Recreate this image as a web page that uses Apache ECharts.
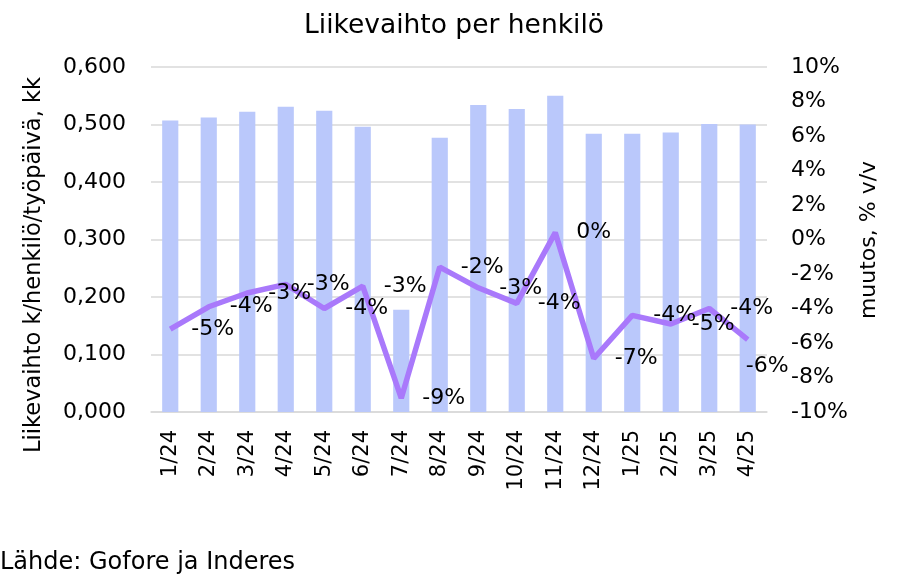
<!DOCTYPE html>
<html>
<head>
<meta charset="utf-8">
<script src="https://cdn.jsdelivr.net/npm/echarts@6/dist/echarts.min.js"></script>
<style>
  html, body { margin: 0; padding: 0; background: #ffffff; }
  #chart { width: 908px; height: 585px; }
</style>
</head>
<body>
<div id="chart"></div>
<script>
// ---- data ----
var categories = ['1/24','2/24','3/24','4/24','5/24','6/24','7/24','8/24','9/24','10/24','11/24','12/24','1/25','2/25','3/25','4/25'];
var revenuePerPerson = [0.507, 0.512, 0.522, 0.531, 0.524, 0.496, 0.178, 0.477, 0.534, 0.527, 0.550, 0.484, 0.484, 0.486, 0.501, 0.500];
var changeYoY = [-5.2, -3.9, -3.1, -2.6, -4.0, -2.7, -9.2, -1.6, -2.8, -3.7, 0.4, -6.9, -4.4, -4.9, -4.0, -5.8];
var leftTicks = { min: 0, max: 0.6, interval: 0.1 };
var rightTicks = { min: -10, max: 10, interval: 2 };
var titleText = 'Liikevaihto per henkilö';
var leftAxisName = 'Liikevaihto k/henkilö/työpäivä, kk';
var rightAxisName = 'muutos, % v/v';
var sourceText = 'Lähde: Gofore ja Inderes';

var FONT = '"DejaVu Sans", sans-serif';
var chart = echarts.init(document.getElementById('chart'), null, { renderer: 'canvas' });
var lastIndex = changeYoY.length - 1;

chart.setOption({
  animation: false,
  backgroundColor: '#ffffff',
  textStyle: { fontFamily: FONT },
  title: {
    text: titleText,
    left: 'center',
    top: 8,
    textStyle: { fontFamily: FONT, fontSize: 26.5, fontWeight: 'normal', color: '#000' }
  },
  grid: { left: 151, right: 141, top: 67, bottom: 173, containLabel: false },
  xAxis: {
    type: 'category',
    data: categories,
    axisLine: { show: true, lineStyle: { color: '#D9D9D9', width: 1.5 } },
    axisTick: { show: false },
    axisLabel: { rotate: 90, margin: 18, fontSize: 21, color: '#000', fontFamily: FONT, interval: 0 }
  },
  yAxis: [
    {
      type: 'value',
      min: leftTicks.min, max: leftTicks.max, interval: leftTicks.interval,
      axisLine: { show: false },
      axisTick: { show: false },
      splitLine: { show: true, lineStyle: { color: '#D9D9D9', width: 1.5 } },
      axisLabel: {
        margin: 25, fontSize: 22, color: '#000', fontFamily: FONT,
        formatter: function (v) { return v.toFixed(3).replace('.', ','); }
      }
    },
    {
      type: 'value',
      position: 'right',
      min: rightTicks.min, max: rightTicks.max, interval: rightTicks.interval,
      axisLine: { show: false },
      axisTick: { show: false },
      splitLine: { show: false },
      axisLabel: {
        margin: 24, fontSize: 22, color: '#000', fontFamily: FONT,
        formatter: function (v) { return Math.round(v) + '%'; }
      }
    }
  ],
  series: [
    {
      type: 'bar',
      data: revenuePerPerson,
      barWidth: '42%',
      itemStyle: { color: '#BAC8FB' },
      yAxisIndex: 0,
      z: 2
    },
    {
      type: 'line',
      data: changeYoY,
      yAxisIndex: 1,
      symbol: 'circle',
      symbolSize: 0,
      showSymbol: true,
      itemStyle: { color: '#A979FB' },
      lineStyle: { color: '#A979FB', width: 5.5 },
      label: {
        show: true,
        position: 'right',
        distance: 21,
        fontSize: 22,
        color: '#000',
        fontFamily: FONT,
        formatter: function (p) { return Math.round(p.value) + '%'; }
      },
      labelLayout: function (params) {
        if (params.dataIndex === lastIndex) {
          return { dx: -23, dy: 27, hideOverlap: false };
        }
        return { hideOverlap: false };
      },
      z: 3
    }
  ],
  graphic: [
    {
      type: 'text',
      x: 34, y: 265,
      rotation: Math.PI / 2,
      style: { text: leftAxisName, fontSize: 22.5, fontFamily: FONT, fill: '#000', align: 'center', verticalAlign: 'middle' }
    },
    {
      type: 'text',
      x: 869, y: 240,
      rotation: Math.PI / 2,
      style: { text: rightAxisName, fontSize: 22, fontFamily: FONT, fill: '#000', align: 'center', verticalAlign: 'middle' }
    },
    {
      type: 'text',
      x: 0, y: 563,
      style: { text: sourceText, fontSize: 24, fontFamily: FONT, fill: '#000', align: 'left', verticalAlign: 'middle' }
    }
  ]
});
</script>
</body>
</html>
